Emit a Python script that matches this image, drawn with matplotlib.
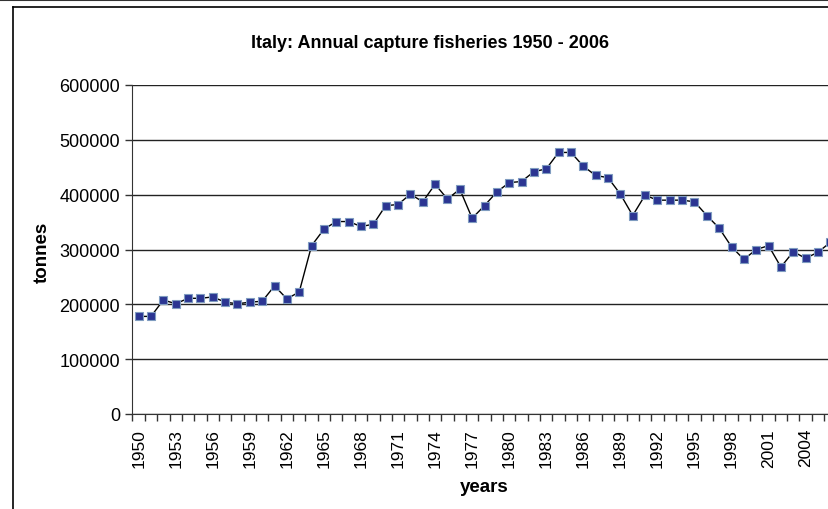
import matplotlib
matplotlib.use("Agg")
import matplotlib.pyplot as plt
from matplotlib.lines import Line2D

plt.rcParams["font.family"] = ["Liberation Sans", "DejaVu Sans"]

YEARS = list(range(1950, 2007))
CATCH = [
    178000, 178000, 208000, 201000, 211000, 211000, 213500, 204000, 201000, 204000,
    205600, 233600, 210000, 222600, 307000, 337000, 351000, 351000, 342000, 346000,
    380000, 382000, 401000, 387000, 419000, 392000, 410000, 357000, 380000, 405000,
    422000, 424000, 442000, 447000, 477000, 477000, 452000, 435000, 431000, 401000,
    362000, 399000, 390000, 390000, 390000, 387000, 362000, 339000, 305000, 282000,
    300000, 307000, 268000, 296000, 284000, 295000, 313000,
]
YTICKS = [0, 100000, 200000, 300000, 400000, 500000, 600000]
XLABEL_YEARS = list(range(1950, 2007, 3))

W, H = 829, 510
fig = plt.figure(figsize=(W / 100, H / 100), dpi=100)

# axes box; plot runs past the right edge like the cropped original
left, right, top, bottom = 132.5, 836.5, 86, 415
ax = fig.add_axes([left / W, 1 - bottom / H, (right - left) / W, (bottom - top) / H])

idx = list(range(len(YEARS)))
ax.plot(idx, CATCH, color="black", lw=1.0, marker="s", ms=5.6,
        mfc="#2b3592", mec="#7f9cc0", mew=0.8, clip_on=False, zorder=3)

ax.set_xlim(-0.5, len(YEARS) - 0.5)
ax.set_ylim(0, 600000)

ax.set_yticks(YTICKS)
ax.set_yticklabels([str(v) for v in YTICKS], fontsize=13)
ax.yaxis.grid(True, color="#222222", lw=1.0)
ax.set_axisbelow(True)

# category axis: ticks between categories, labels every 3 years
ax.set_xticks([i - 0.5 for i in idx] + [len(YEARS) - 0.5])
ax.set_xticklabels([])
lab_pos = [YEARS.index(y) for y in XLABEL_YEARS]
for p, y in zip(lab_pos, XLABEL_YEARS):
    ax.annotate(str(y), xy=(p, 0), xycoords=("data", "axes fraction"),
                xytext=(0, -10), textcoords="offset points",
                rotation=90, ha="center", va="top", fontsize=12.5)

ax.tick_params(axis="both", direction="out", length=5, width=1, color="#333333")
ax.tick_params(axis="y", pad=4)

for s in ["top", "right"]:
    ax.spines[s].set_visible(False)
ax.spines["left"].set_color("#333333")
ax.spines["bottom"].set_color("#333333")

fig.text(430 / W, 1 - 43 / H, "Italy: Annual capture fisheries 1950 - 2006",
         ha="center", va="center", fontsize=13, fontweight="bold")
fig.text(484 / W, 1 - 487 / H, "years", ha="center", va="center",
         fontsize=13.5, fontweight="bold")
fig.text(42.5 / W, 1 - 252 / H, "tonnes", ha="center", va="center",
         rotation=90, fontsize=13.5, fontweight="bold")

# outer chart frame (cropped at right and bottom)
fig.add_artist(Line2D([13.5 / W, 13.5 / W], [0, 1 - 7.5 / H], color="black", lw=1.2))
fig.add_artist(Line2D([13.5 / W, 1], [1 - 7.5 / H, 1 - 7.5 / H], color="black", lw=1.2))
fig.add_artist(Line2D([0, 1], [1 - 0.8 / H, 1 - 0.8 / H], color="#333333", lw=1.5))

fig.savefig("out.png", dpi=100)
